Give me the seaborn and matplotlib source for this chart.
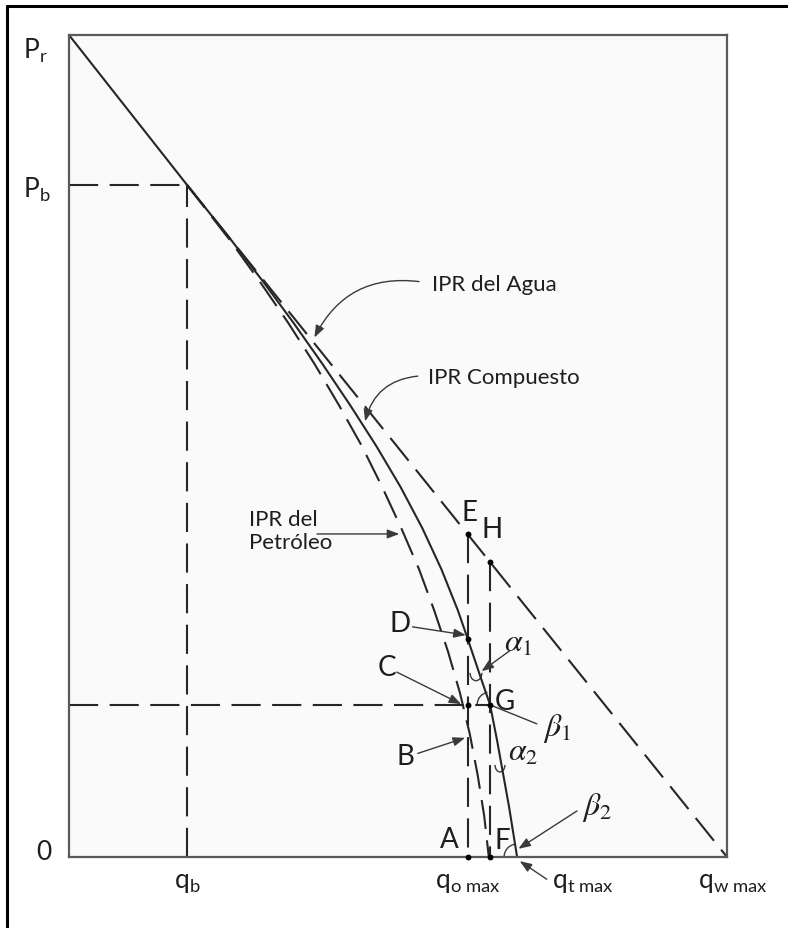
import seaborn as sns
import matplotlib.pyplot as plt
from matplotlib.patches import Arc
from matplotlib.lines import Line2D

# ---- reservoir pressures and characteristic rates (axis units: % of P_r, % of q_w max) ----
P_r = 100.0
P_b = 81.8
q_b = 17.9
q_o_max = 60.6
q_F = 64.0
q_t_max = 68.1
q_w_max = 100.0
p_G = 18.5

# oil IPR (Vogel shape below the bubble point)
oil_p = [81.8, 75, 70, 65, 60, 55, 50, 45, 40, 35, 30, 25, 20, 15, 10, 5, 0]
oil_q = [17.9, 24.5, 29.0, 33.3, 37.3, 41.0, 44.5, 47.6, 50.5, 53.2, 55.5, 57.6, 59.4, 60.9, 62.1, 63.1, 63.8]

# composite IPR
comp_p = [81.8, 75, 70, 65, 60, 55, 50, 45, 40, 35, 30, 27, 22, 18.5, 14, 10, 6, 3, 0]
comp_q = [17.9, 24.7, 29.5, 34.1, 38.5, 42.7, 46.7, 50.4, 53.7, 56.6, 59.1, 60.4, 62.5, 64.0, 65.1, 66.0, 66.9, 67.5, 68.1]

# water IPR (straight line) and the common straight part above P_b
water_q = [q_b, q_w_max]
water_p = [P_b, 0.0]
single_q = [0.0, q_b]
single_p = [P_r, P_b]

# marked points: E, H, D, G, C-level intersection, A, F
pts_q = [60.6, 64.0, 60.6, 64.0, 60.6, 60.6, 64.0]
pts_p = [39.3, 35.9, 26.5, 18.5, 18.5, 0.0, 0.0]

LINE = '#262626'
DASH = (0, (14, 5.5))

sns.set_style('white')
plt.rcParams['font.family'] = ['Lato', 'DejaVu Sans']
plt.rcParams['mathtext.fontset'] = 'custom'
plt.rcParams['mathtext.rm'] = 'Lato'
plt.rcParams['mathtext.it'] = 'Lato:italic'

fig = plt.figure(figsize=(7.88, 9.29), dpi=100)
ax = fig.add_axes([69 / 788, 1 - 858 / 929, 658 / 788, 822 / 929])
ax.set_facecolor('#fafafa')
ax.set_xlim(0, q_w_max)
ax.set_ylim(0, P_r)
ax.set_xticks([])
ax.set_yticks([])
for s in ax.spines.values():
    s.set_color('#5a5a5a')
    s.set_linewidth(1.6)


def line(q, p, dashed=False, lw=1.5):
    kw = dict(linestyle=DASH) if dashed else {}
    sns.lineplot(x=q, y=p, ax=ax, sort=False, estimator=None, errorbar=None,
                 color=LINE, linewidth=lw, **kw)


# IPR curves
line(water_q, water_p, dashed=True)
line(oil_q, oil_p, dashed=True)
line(comp_q, comp_p)
line(single_q, single_p)

# construction lines
line([0, q_b], [P_b, P_b], dashed=True)
line([q_b, q_b], [0, P_b], dashed=True)
line([0, q_F], [p_G, p_G], dashed=True)
line([q_o_max, q_o_max], [pts_p[0], 0], dashed=True)
line([q_F, q_F], [pts_p[1], 0], dashed=True)

sns.scatterplot(x=pts_q, y=pts_p, ax=ax, color='black', s=18, linewidth=0,
                zorder=5, clip_on=False)

# ---- arrows ----
def arrow(xy, xytext, rad=0.0, head=True):
    style = '-|>,head_length=0.45,head_width=0.17' if head else '-'
    ax.annotate('', xy=xy, xytext=xytext,
                arrowprops=dict(arrowstyle=style, color='#3a3a3a', lw=1.0,
                                mutation_scale=16, shrinkA=0, shrinkB=0,
                                connectionstyle=f'arc3,rad={rad}'),
                annotation_clip=False)


TXT = dict(color='#1e1e1e')
ax.text(55.2, 69.7, 'IPR del Agua', fontsize=16, ha='left', va='center', **TXT)
arrow((37.3, 63.2), (53.2, 70.0), rad=0.35)
ax.text(54.6, 58.4, 'IPR Compuesto', fontsize=16, ha='left', va='center', **TXT)
arrow((45.0, 53.0), (53.0, 58.5), rad=0.35)
ax.text(27.3, 39.7, 'IPR del\nPetróleo', fontsize=16, ha='left', va='center',
        linespacing=1.2, **TXT)
arrow((50.2, 39.3), (37.7, 39.3))

# point letters
LET = dict(fontsize=20, ha='center', va='center', color='#1e1e1e')
ax.text(60.9, 42.0, 'E', **LET)
ax.text(64.3, 39.9, 'H', **LET)
ax.text(50.3, 28.5, 'D', **LET)
arrow((60.3, 27.0), (52.2, 28.0))
ax.text(48.3, 23.1, 'C', **LET)
arrow((59.6, 18.6), (49.8, 22.5))
ax.text(51.1, 12.3, 'B', **LET)
arrow((60.2, 14.5), (53.0, 12.6))
ax.text(57.8, 2.2, 'A', **LET)
ax.text(65.9, 2.1, 'F', **LET)
ax.text(66.2, 19.0, 'G', **LET)

# angle labels
GR = dict(fontsize=23, ha='center', va='center', math_fontfamily='stix', color='#1e1e1e')
ax.text(68.2, 26.2, r'$\alpha_1$', **GR)
arrow((62.7, 22.6), (67.0, 25.1))
ax.text(74.2, 15.7, r'$\beta_1$', **GR)
arrow((q_F, p_G), (71.1, 16.2), head=False)
ax.text(69.0, 12.9, r'$\alpha_2$', **GR)
ax.text(80.2, 6.1, r'$\beta_2$', **GR)
arrow((68.3, 1.0), (77.2, 5.6))

# angle arcs
ARC = dict(color='#3a3a3a', lw=1.0)
ax.add_patch(Arc((q_F, p_G), 3.95, 3.16, theta1=105, theta2=180, **ARC))
ax.add_patch(Arc((q_t_max, 0), 3.95, 3.16, theta1=97, theta2=180, **ARC))
ax.add_patch(Arc((61.85, 22.4), 1.8, 1.9, theta1=180, theta2=360, **ARC))
ax.add_patch(Arc((65.5, 11.2), 1.5, 1.7, theta1=180, theta2=360, **ARC))

# ---- axis labels ----
AX = dict(fontsize=19, color='#1e1e1e')
ax.text(-7.0, 98.2, r'$\mathregular{P_r}$', ha='left', va='center', **AX)
ax.text(-7.0, 81.3, r'$\mathregular{P_b}$', ha='left', va='center', **AX)
ax.text(-3.8, 0.7, '0', ha='center', va='center', **AX)
ax.text(q_b, -3.0, r'$\mathregular{q_b}$', ha='center', va='center', **AX)
ax.text(q_o_max, -3.0, r'$\mathregular{q_{o\ max}}$', ha='center', va='center', **AX)
ax.text(73.4, -3.0, r'$\mathregular{q_{t\ max}}$', ha='left', va='center', **AX)
arrow((68.5, -0.5), (72.6, -2.7))
ax.text(95.6, -3.0, r'$\mathregular{q_{w\ max}}$', ha='left', va='center', **AX)

# outer frame (top and left edges)
fig.add_artist(Line2D([7 / 788, 1.0], [1 - 7 / 929] * 2, transform=fig.transFigure,
                      color='black', lw=2.2))
fig.add_artist(Line2D([7 / 788] * 2, [0.0, 1 - 7 / 929], transform=fig.transFigure,
                      color='black', lw=2.2))

fig.savefig('out.png', dpi=100, facecolor='white')
